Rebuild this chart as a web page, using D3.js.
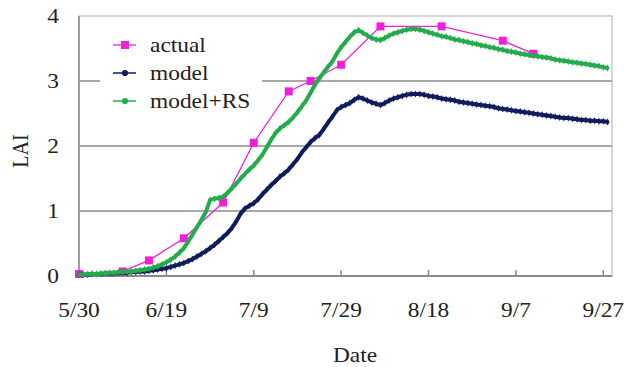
<!DOCTYPE html>
<html>
<head>
<meta charset="utf-8">
<script src="https://cdn.jsdelivr.net/npm/d3@7"></script>
<style>
  body { margin: 0; background: #fff; }
  text { font-family: "Liberation Serif", "Times New Roman", serif; fill: #222; }
</style>
</head>
<body>
<svg id="canvas"></svg>
<script>
var w = 624
var h = 367

// ########## Data ##########

var year = "2010/"
var startDate = "5/30"
var endDate = "9/29"
var tickLabels = ["5/30", "6/19", "7/9", "7/29", "8/18", "9/7", "9/27"]
var yTicks = [0, 1, 2, 3, 4]

// daily values from 5/30
var modelLAI = [
    0.02, 0.02, 0.02, 0.03, 0.03, 0.03, 0.04, 0.04, 0.04, 0.05,
    0.05, 0.05, 0.06, 0.06, 0.07, 0.07, 0.08, 0.09, 0.10, 0.11,
    0.12, 0.14, 0.16, 0.18, 0.20, 0.23, 0.26, 0.30, 0.34, 0.38,
    0.43, 0.48, 0.54, 0.60, 0.66, 0.74, 0.84, 0.96, 1.04, 1.08,
    1.12, 1.18, 1.26, 1.33, 1.40, 1.46, 1.53, 1.58, 1.64, 1.72,
    1.80, 1.90, 1.98, 2.06, 2.12, 2.17, 2.26, 2.36, 2.45, 2.55,
    2.60, 2.63, 2.66, 2.71, 2.75, 2.73, 2.70, 2.67, 2.65, 2.63,
    2.66, 2.70, 2.73, 2.75, 2.77, 2.79, 2.80, 2.80, 2.80, 2.79,
    2.77, 2.76, 2.75, 2.73, 2.72, 2.71, 2.70, 2.68, 2.67, 2.66,
    2.65, 2.64, 2.63, 2.62, 2.61, 2.60, 2.58, 2.57, 2.56, 2.55,
    2.54, 2.53, 2.52, 2.51, 2.50, 2.49, 2.48, 2.47, 2.46, 2.45,
    2.44, 2.43, 2.43, 2.42, 2.41, 2.40, 2.40, 2.39, 2.39, 2.38,
    2.38, 2.37
]

var modelRsLAI = [
    0.02, 0.02, 0.03, 0.03, 0.03, 0.04, 0.04, 0.05, 0.05, 0.06,
    0.06, 0.07, 0.07, 0.08, 0.09, 0.10, 0.11, 0.13, 0.15, 0.18,
    0.21, 0.25, 0.30, 0.36, 0.43, 0.53, 0.64, 0.75, 0.86, 0.98,
    1.17, 1.19, 1.20, 1.22, 1.28, 1.35, 1.42, 1.50, 1.57, 1.64,
    1.70, 1.78, 1.87, 1.98, 2.10, 2.20, 2.27, 2.32, 2.37, 2.44,
    2.52, 2.61, 2.70, 2.82, 2.94, 3.04, 3.13, 3.22, 3.30, 3.42,
    3.52, 3.60, 3.68, 3.75, 3.78, 3.74, 3.70, 3.66, 3.64, 3.63,
    3.66, 3.70, 3.73, 3.75, 3.77, 3.79, 3.80, 3.80, 3.79, 3.77,
    3.75, 3.73, 3.71, 3.69, 3.68, 3.66, 3.64, 3.63, 3.61, 3.60,
    3.58, 3.57, 3.55, 3.54, 3.52, 3.51, 3.49, 3.48, 3.46, 3.45,
    3.44, 3.42, 3.41, 3.40, 3.39, 3.38, 3.37, 3.36, 3.35, 3.33,
    3.32, 3.31, 3.30, 3.29, 3.28, 3.27, 3.26, 3.25, 3.24, 3.23,
    3.21, 3.20
]

var actualDates = ["5/30", "6/9", "6/15", "6/23", "7/2", "7/9", "7/17", "7/22", "7/29", "8/7", "8/21", "9/4", "9/11"]
var actualLAI = [0.03, 0.07, 0.24, 0.58, 1.13, 2.05, 2.84, 3.00, 3.25, 3.84, 3.84, 3.62, 3.42]

var seriesNames = ["actual", "model", "model+RS"]
var seriesColors = ["#f21fd8", "#101c5e", "#24ac4c"]

// ########## SVG ##########

var parse = function (s) { return d3.timeParse("%Y/%m/%d")(year + s); }
var margin = { left: 79, right: 12, top: 16, bottom: 91 }

var svg = d3.select("#canvas")
    .attr("width", w)
    .attr("height", h);

var x = d3.scaleTime()
    .domain([parse(startDate), parse(endDate)])
    .range([margin.left, w - margin.right]);

var y = d3.scaleLinear()
    .domain([0, 4])
    .range([h - margin.bottom, margin.top]);

var start = parse(startDate)
var dayDate = function (d, i) { return d3.timeDay.offset(start, i); }

// ########## Grid & frame ##########

svg.append("rect")
    .attr("x", x.range()[0])
    .attr("y", y(4))
    .attr("width", x.range()[1] - x.range()[0])
    .attr("height", y(0) - y(4))
    .attr("fill", "none")
    .attr("stroke", "#c8c8c8")
    .attr("stroke-width", 1.5);

svg.selectAll(".grid")
    .data([1, 2, 3]).enter()
    .append("line")
    .attr("class", "grid")
    .attr("x1", x.range()[0])
    .attr("x2", x.range()[1])
    .attr("y1", function (d) { return y(d); })
    .attr("y2", function (d) { return y(d); })
    .attr("stroke", "#a8a8a8")
    .attr("stroke-width", 2);

// left & bottom axis lines
svg.append("line")
    .attr("x1", x.range()[0]).attr("x2", x.range()[0])
    .attr("y1", y(0)).attr("y2", y(4))
    .attr("stroke", "#8a8a8a").attr("stroke-width", 1.5);

svg.append("line")
    .attr("x1", x.range()[0]).attr("x2", x.range()[1])
    .attr("y1", y(0)).attr("y2", y(0))
    .attr("stroke", "#8a8a8a").attr("stroke-width", 2);

// x ticks pointing up
svg.selectAll(".xtick")
    .data(tickLabels).enter()
    .append("line")
    .attr("class", "xtick")
    .attr("x1", function (d) { return x(parse(d)); })
    .attr("x2", function (d) { return x(parse(d)); })
    .attr("y1", y(0))
    .attr("y2", y(0) - 6)
    .attr("stroke", "#8a8a8a")
    .attr("stroke-width", 1.5);

// ########## Labels ##########

var stretch = "scale(1.17,1)"

svg.selectAll(".xlabel")
    .data(tickLabels).enter()
    .append("text")
    .attr("class", "xlabel")
    .attr("text-anchor", "middle")
    .attr("font-size", 20)
    .attr("transform", function (d) { return "translate(" + x(parse(d)) + "," + (y(0) + 41) + ") " + stretch; })
    .text(function (d) { return d; });

svg.selectAll(".ylabel")
    .data(yTicks).enter()
    .append("text")
    .attr("class", "ylabel")
    .attr("text-anchor", "end")
    .attr("font-size", 20)
    .attr("transform", function (d) { return "translate(59," + (y(d) + 7) + ") " + stretch; })
    .text(function (d) { return d; });

svg.append("text")
    .attr("text-anchor", "middle")
    .attr("font-size", 20)
    .attr("transform", "translate(355,362) " + stretch)
    .text("Date");

svg.append("text")
    .attr("text-anchor", "middle")
    .attr("font-size", 20)
    .attr("transform", "translate(28,151) " + stretch + " rotate(-90)")
    .text("LAI");

// ########## Lines ##########

var line = d3.line()
    .x(function (d) { return x(d.date); })
    .y(function (d) { return y(d.v); });

var modelData = modelLAI.map(function (v, i) { return { date: dayDate(v, i), v: v }; });
var modelRsData = modelRsLAI.map(function (v, i) { return { date: dayDate(v, i), v: v }; });
var actualData = actualLAI.map(function (v, i) { return { date: parse(actualDates[i]), v: v }; });

var diamond = d3.symbol().type(d3.symbolDiamond).size(14);

function drawDense(data, color) {
    svg.append("path")
        .datum(data)
        .attr("d", line)
        .attr("fill", "none")
        .attr("stroke", color)
        .attr("stroke-width", 4)
        .attr("stroke-linejoin", "round");

    svg.append("g").selectAll("path")
        .data(data).enter()
        .append("path")
        .attr("d", diamond)
        .attr("transform", function (d) { return "translate(" + x(d.date) + "," + y(d.v) + ")"; })
        .attr("fill", color);
}

// actual
svg.append("path")
    .datum(actualData)
    .attr("d", line)
    .attr("fill", "none")
    .attr("stroke", seriesColors[0])
    .attr("stroke-width", 1.3);

svg.selectAll(".sq")
    .data(actualData).enter()
    .append("rect")
    .attr("class", "sq")
    .attr("x", function (d) { return x(d.date) - 4; })
    .attr("y", function (d) { return y(d.v) - 4; })
    .attr("width", 8)
    .attr("height", 8)
    .attr("fill", seriesColors[0]);

drawDense(modelData, seriesColors[1]);
drawDense(modelRsData, seriesColors[2]);

// ########## Legend ##########

svg.append("rect")
    .attr("x", 100)
    .attr("y", 28)
    .attr("width", 162)
    .attr("height", 84)
    .attr("fill", "#fff");

var legend = svg.selectAll(".legend")
    .data(seriesNames).enter()
    .append("g")
    .attr("class", "legend")
    .attr("transform", function (d, i) { return "translate(0," + (45 + i * 28) + ")"; });

legend.append("line")
    .attr("x1", 113).attr("x2", 136)
    .attr("y1", 0).attr("y2", 0)
    .attr("stroke", function (d, i) { return seriesColors[i]; })
    .attr("stroke-width", function (d, i) { return i == 0 ? 1.3 : 1.5; });

legend.append("path")
    .attr("d", function (d, i) {
        return i == 0 ? d3.symbol().type(d3.symbolSquare).size(64)() : d3.symbol().type(d3.symbolCircle).size(30)();
    })
    .attr("transform", "translate(125,0)")
    .attr("fill", function (d, i) { return seriesColors[i]; });

legend.append("text")
    .attr("font-size", 20)
    .attr("transform", "translate(150,7) " + stretch)
    .text(function (d) { return d; });
</script>
</body>
</html>
